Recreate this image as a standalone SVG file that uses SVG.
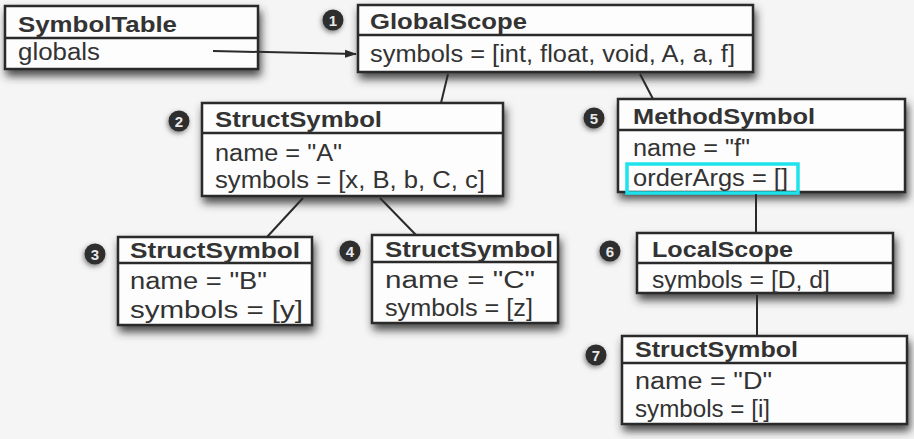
<svg xmlns="http://www.w3.org/2000/svg" width="914" height="439" viewBox="0 0 914 439">
<style>
.box{fill:#fdfdfd;stroke:#2a2a2a;stroke-width:2.5}
.div{stroke:#2a2a2a;stroke-width:2.5}
.t{font-family:"Liberation Sans",Arial,Helvetica,sans-serif;font-size:22px;font-weight:bold;fill:#333}
.f{font-family:"Liberation Sans",Arial,Helvetica,sans-serif;font-size:23px;fill:#333}
.badge{fill:#2f2f2f}
.bn{font-family:"Liberation Sans",Arial,sans-serif;font-size:15px;font-weight:bold;fill:#e8e8e8;text-anchor:middle}
.con{stroke:#2a2a2a;stroke-width:2;fill:none}
.hl{fill:none;stroke:#1ee3ec;stroke-width:3.5}
</style>
<defs>
<filter id="sh" x="-10%" y="-20%" width="125%" height="160%">
<feGaussianBlur in="SourceAlpha" stdDeviation="4"/>
<feOffset dx="2" dy="6" result="b"/>
<feFlood flood-color="#2e2e2e" flood-opacity="0.85"/>
<feComposite in2="b" operator="in"/>
<feMerge><feMergeNode/><feMergeNode in="SourceGraphic"/></feMerge>
</filter>
<filter id="bsh" x="-60%" y="-60%" width="220%" height="220%">
<feGaussianBlur in="SourceAlpha" stdDeviation="2.5"/>
<feOffset dx="-1" dy="2" result="b"/>
<feFlood flood-color="#555" flood-opacity="0.75"/>
<feComposite in2="b" operator="in"/>
<feMerge><feMergeNode/><feMergeNode in="SourceGraphic"/></feMerge>
</filter>
<marker id="arr" markerWidth="12" markerHeight="10" refX="11" refY="5" orient="auto" markerUnits="userSpaceOnUse">
<path d="M0,1 L12,5 L0,9 Z" fill="#2a2a2a"/>
</marker>
</defs>
<rect width="914" height="439" fill="#f5f5f5"/>

<g id="symboltable">
<rect class="box" x="5" y="6" width="253" height="63" filter="url(#sh)"/>
<line class="div" x1="5" y1="38" x2="258" y2="38"/>
<text class="t" x="18" y="32" textLength="159" lengthAdjust="spacingAndGlyphs">SymbolTable</text>
<text class="f" x="18" y="60" textLength="82" lengthAdjust="spacingAndGlyphs">globals</text>
</g>

<g id="globalscope">
<rect class="box" x="358" y="5" width="395" height="67" filter="url(#sh)"/>
<line class="div" x1="358" y1="35" x2="753" y2="35"/>
<circle class="badge" cx="333" cy="20" r="10.5" filter="url(#bsh)"/>
<text class="bn" x="333" y="25.5">1</text>
<text class="t" x="370" y="29" textLength="157" lengthAdjust="spacingAndGlyphs">GlobalScope</text>
<text class="f" x="370" y="62" textLength="365" lengthAdjust="spacingAndGlyphs">symbols = [int, float, void, A, a, f]</text>
</g>

<g id="structA">
<rect class="box" x="202" y="103" width="301" height="93" filter="url(#sh)"/>
<line class="div" x1="202" y1="133" x2="503" y2="133"/>
<circle class="badge" cx="179" cy="121" r="10.5" filter="url(#bsh)"/>
<text class="bn" x="179" y="126.5">2</text>
<text class="t" x="215" y="127" textLength="167" lengthAdjust="spacingAndGlyphs">StructSymbol</text>
<text class="f" x="215" y="161" textLength="127" lengthAdjust="spacingAndGlyphs">name = "A"</text>
<text class="f" x="215" y="188" textLength="270" lengthAdjust="spacingAndGlyphs">symbols = [x, B, b, C, c]</text>
</g>

<g id="methodF">
<rect class="box" x="618" y="99" width="287" height="93" filter="url(#sh)"/>
<line class="div" x1="618" y1="130" x2="905" y2="130"/>
<circle class="badge" cx="594" cy="118" r="10.5" filter="url(#bsh)"/>
<text class="bn" x="594" y="123.5">5</text>
<text class="t" x="633" y="124" textLength="182" lengthAdjust="spacingAndGlyphs">MethodSymbol</text>
<text class="f" x="633" y="156" textLength="117" lengthAdjust="spacingAndGlyphs">name = "f"</text>
<text class="f" x="633" y="186" textLength="155" lengthAdjust="spacingAndGlyphs">orderArgs = []</text>
<rect class="hl" x="627" y="164" width="171" height="29"/>
</g>

<g id="structB">
<rect class="box" x="118" y="237" width="194" height="88" filter="url(#sh)"/>
<line class="div" x1="118" y1="263" x2="312" y2="263"/>
<circle class="badge" cx="95" cy="254" r="10.5" filter="url(#bsh)"/>
<text class="bn" x="95" y="259.5">3</text>
<text class="t" x="130" y="258" textLength="170" lengthAdjust="spacingAndGlyphs">StructSymbol</text>
<text class="f" x="130" y="289" textLength="137" lengthAdjust="spacingAndGlyphs">name = "B"</text>
<text class="f" x="130" y="318" textLength="173" lengthAdjust="spacingAndGlyphs">symbols = [y]</text>
</g>

<g id="structC">
<rect class="box" x="372" y="235" width="186" height="88" filter="url(#sh)"/>
<line class="div" x1="372" y1="262" x2="558" y2="262"/>
<circle class="badge" cx="350" cy="251" r="10.5" filter="url(#bsh)"/>
<text class="bn" x="350" y="256.5">4</text>
<text class="t" x="385" y="257" textLength="168" lengthAdjust="spacingAndGlyphs">StructSymbol</text>
<text class="f" x="385" y="288" textLength="150" lengthAdjust="spacingAndGlyphs">name = "C"</text>
<text class="f" x="385" y="316" textLength="148" lengthAdjust="spacingAndGlyphs">symbols = [z]</text>
</g>

<g id="localScope">
<rect class="box" x="637" y="233" width="256" height="60" filter="url(#sh)"/>
<line class="div" x1="637" y1="263" x2="893" y2="263"/>
<circle class="badge" cx="610" cy="251" r="10.5" filter="url(#bsh)"/>
<text class="bn" x="610" y="256.5">6</text>
<text class="t" x="652" y="257" textLength="141" lengthAdjust="spacingAndGlyphs">LocalScope</text>
<text class="f" x="652" y="288" textLength="178" lengthAdjust="spacingAndGlyphs">symbols = [D, d]</text>
</g>

<g id="structD">
<rect class="box" x="622" y="336" width="285" height="88" filter="url(#sh)"/>
<line class="div" x1="622" y1="363" x2="907" y2="363"/>
<circle class="badge" cx="596" cy="355" r="10.5" filter="url(#bsh)"/>
<text class="bn" x="596" y="360.5">7</text>
<text class="t" x="635" y="357" textLength="163" lengthAdjust="spacingAndGlyphs">StructSymbol</text>
<text class="f" x="635" y="389" textLength="137" lengthAdjust="spacingAndGlyphs">name = "D"</text>
<text class="f" x="635" y="417" textLength="135" lengthAdjust="spacingAndGlyphs">symbols = [i]</text>
</g>

<g id="connectors">
<path class="con" d="M213,51 L356,54" marker-end="url(#arr)"/>
<path class="con" d="M448,74 L441,103"/>
<path class="con" d="M640,74 L653,99"/>
<path class="con" d="M303,198 L267,237"/>
<path class="con" d="M380,198 L416,235"/>
<path class="con" d="M756,194 L756,233"/>
<path class="con" d="M757,295 L757,336"/>
</g>
</svg>
